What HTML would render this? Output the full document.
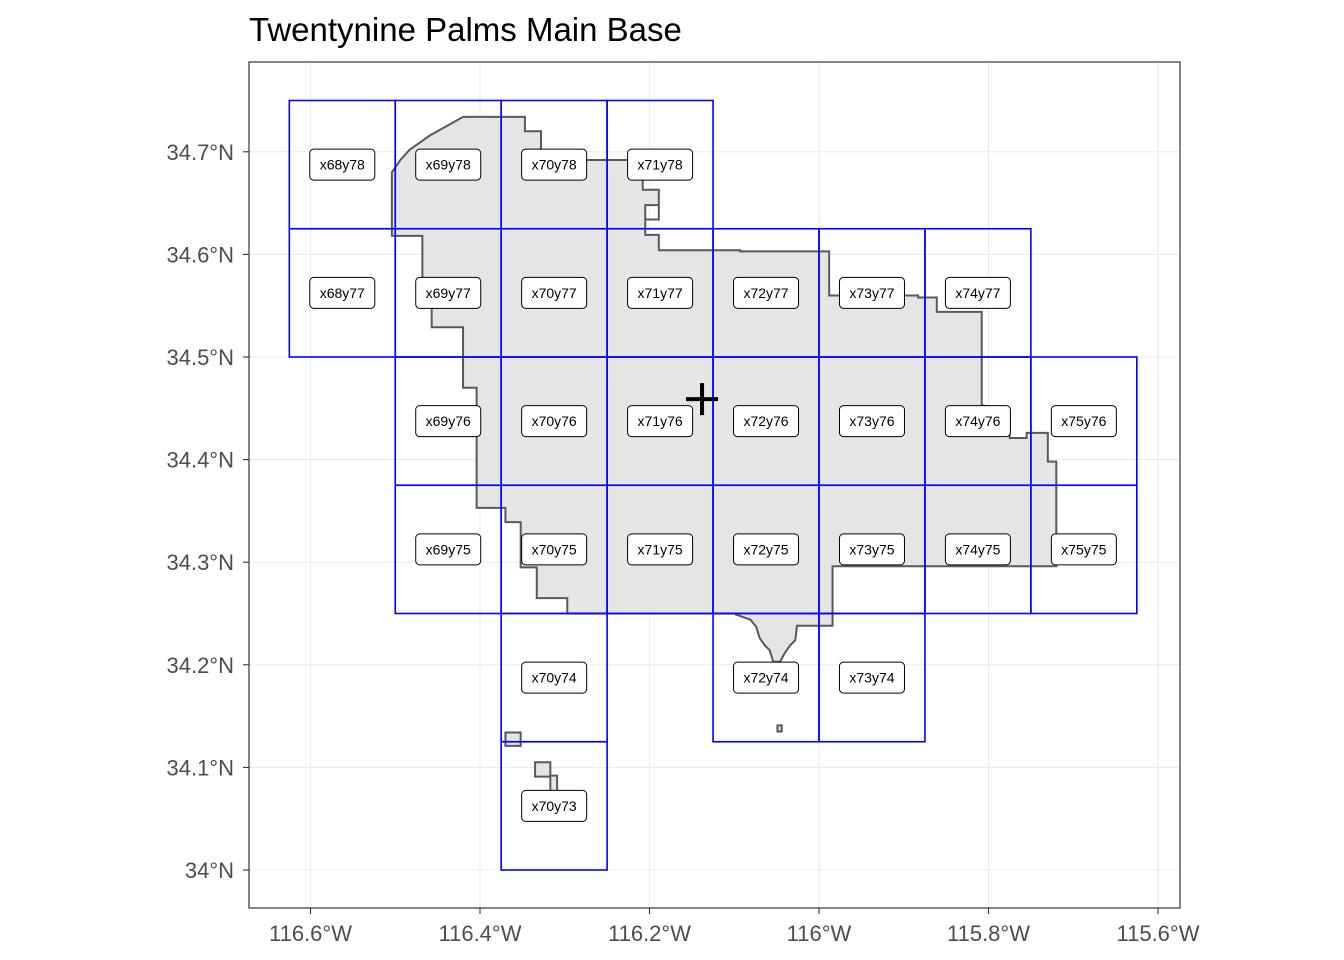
<!DOCTYPE html>
<html><head><meta charset="utf-8"><style>
html,body{margin:0;padding:0;background:#fff;}
svg{display:block;font-family:"Liberation Sans",sans-serif;}
</style></head><body>
<svg id="chart" width="1344" height="960" viewBox="0 0 1344 960">
<text x="249" y="41" font-size="33" fill="#000">Twentynine Palms Main Base</text>
<rect x="249" y="62" width="931" height="846" fill="#fff"/>
<g id="grid"></g><g id="poly"></g><g id="cells"></g><g id="labels"></g><g id="axes"></g>
<rect x="249" y="62" width="931" height="846" fill="none" stroke="#333" stroke-width="1.2"/>
</svg>
<script>
const xTicks=[-116.6,-116.4,-116.2,-116.0,-115.8,-115.6];
const xTickLabels=["116.6°W","116.4°W","116.2°W","116°W","115.8°W","115.6°W"];
const yTicks=[34.0,34.1,34.2,34.3,34.4,34.5,34.6,34.7];
const yTickLabels=["34°N","34.1°N","34.2°N","34.3°N","34.4°N","34.5°N","34.6°N","34.7°N"];
const cellX=[68,69,70,71,68,69,70,71,72,73,74,69,70,71,72,73,74,75,69,70,71,72,73,74,75,70,72,73,70];
const cellY=[78,78,78,78,77,77,77,77,77,77,77,76,76,76,76,76,76,76,75,75,75,75,75,75,75,74,74,74,73];
const baseLon=[-116.420,-116.347,-116.347,-116.328,-116.328,-116.274,-116.208,-116.208,-116.189,-116.189,-116.205,-116.205,-116.189,-116.189,-116.189,-116.205,-116.205,-116.189,-116.189,-116.093,-116.093,-115.988,-115.988,-115.883,-115.883,-115.861,-115.861,-115.808,-115.808,-115.775,-115.775,-115.755,-115.755,-115.730,-115.730,-115.720,-115.720,-115.984,-115.984,-116.026,-116.028,-116.034,-116.040,-116.046,-116.054,-116.058,-116.064,-116.070,-116.074,-116.081,-116.098,-116.098,-116.297,-116.297,-116.333,-116.333,-116.352,-116.352,-116.370,-116.370,-116.404,-116.404,-116.420,-116.420,-116.457,-116.457,-116.468,-116.468,-116.504,-116.504,-116.494,-116.483,-116.459];
const baseLat=[34.734,34.734,34.720,34.720,34.692,34.692,34.692,34.663,34.663,34.648,34.648,34.634,34.634,34.648,34.634,34.634,34.619,34.619,34.604,34.604,34.603,34.603,34.560,34.560,34.558,34.558,34.544,34.544,34.453,34.448,34.421,34.421,34.426,34.426,34.398,34.398,34.296,34.296,34.238,34.238,34.224,34.219,34.212,34.203,34.203,34.214,34.219,34.226,34.237,34.244,34.249,34.250,34.250,34.265,34.265,34.295,34.295,34.339,34.339,34.353,34.353,34.470,34.470,34.529,34.529,34.551,34.551,34.618,34.618,34.680,34.692,34.702,34.716];
const islandLon=[[-116.370,-116.352,-116.352,-116.370],[-116.335,-116.317,-116.317,-116.335],[-116.317,-116.309,-116.309,-116.317],[-116.049,-116.044,-116.044,-116.049]];
const islandLat=[[34.134,34.134,34.121,34.121],[34.105,34.105,34.091,34.091],[34.092,34.092,34.077,34.077],[34.141,34.141,34.135,34.135]];
const centroidLon=-116.138, centroidLat=34.459;

const NS='http://www.w3.org/2000/svg';
const X=lon=>819+(lon+116)*847.5;
const Y=lat=>357-(lat-34.5)*1026;
function mk(tag,attrs,parent){const e=document.createElementNS(NS,tag);for(const k in attrs)e.setAttribute(k,attrs[k]);parent.appendChild(e);return e;}
const grid=document.getElementById('grid'),axes=document.getElementById('axes');
xTicks.forEach((t,i)=>{
  const l=mk('line',{x1:X(t),x2:X(t),y1:62,y2:908,stroke:'#ebebeb','stroke-width':1.1},grid);
  
  
  const tk=mk('line',{x1:X(t),x2:X(t),y1:908,y2:914,stroke:'#333','stroke-width':1.1},axes);
  
  
  const tx=mk('text',{x:X(t),y:941,'text-anchor':'middle','font-size':22,fill:'#4d4d4d'},axes);
  tx.textContent=xTickLabels[i];
  
  
});
yTicks.forEach((t,i)=>{
  const l=mk('line',{x1:249,x2:1180,y1:Y(t),y2:Y(t),stroke:'#ebebeb','stroke-width':1.1},grid);
  
  
  const tk=mk('line',{x1:243,x2:249,y1:Y(t),y2:Y(t),stroke:'#333','stroke-width':1.1},axes);
  
  
  const tx=mk('text',{x:234,y:Y(t)+8,'text-anchor':'end','font-size':22,fill:'#4d4d4d'},axes);
  tx.textContent=yTickLabels[i];
  
  
});
const poly=document.getElementById('poly');
const bp=mk('polygon',{points:baseLon.map((v,i)=>X(v)+','+Y(baseLat[i])).join(' '),fill:'#e5e5e5',stroke:'#595959','stroke-width':2},poly);


islandLon.forEach((arr,j)=>{
  const p=mk('polygon',{points:arr.map((v,i)=>X(v)+','+Y(islandLat[j][i])).join(' '),fill:'#e5e5e5',stroke:'#595959','stroke-width':2},poly);
  
  
});
const cells=document.getElementById('cells'),labels=document.getElementById('labels');
cellX.forEach((cx,i)=>{
  const cy=cellY[i];
  const lon0=-116.625+(cx-68)*0.125, lat0=34.0+(cy-73)*0.125;
  const x0=X(lon0),x1=X(lon0+0.125),y0=Y(lat0+0.125),y1=Y(lat0);
  const r=mk('rect',{x:x0,y:y0,width:x1-x0,height:y1-y0,fill:'none',stroke:'#0000ff','stroke-width':1.6},cells);
  
  
  const mx=(x0+x1)/2,my=(y0+y1)/2;
  const g=mk('g',{},labels);
  
  
  mk('rect',{x:mx-32.5,y:my-15.5,width:65,height:31,rx:4,fill:'#fff',stroke:'#000','stroke-width':1},g);
  const t=mk('text',{x:mx,y:my+5,'text-anchor':'middle','font-size':14,fill:'#000'},g);
  t.textContent='x'+cx+'y'+cy;
});
const cxp=X(centroidLon),cyp=Y(centroidLat);
const cr=mk('path',{d:`M${cxp-16},${cyp}H${cxp+16}M${cxp},${cyp-16}V${cyp+16}`,stroke:'#000','stroke-width':4},labels);


</script>
</body></html>
